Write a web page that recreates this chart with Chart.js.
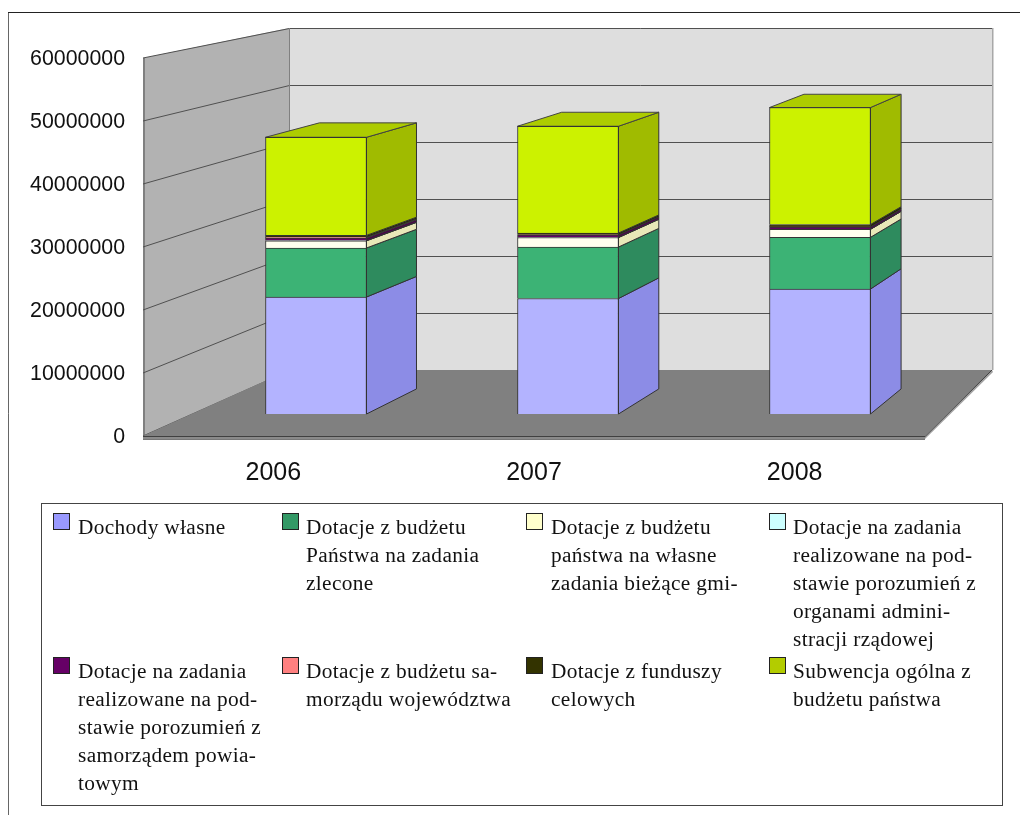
<!DOCTYPE html>
<html lang="pl">
<head>
<meta charset="utf-8">
<style>
html,body{margin:0;padding:0;background:#fff;overflow:hidden}
canvas{display:block}
</style>
<script src="https://cdn.jsdelivr.net/npm/chart.js@4"></script>
</head>
<body>
<canvas id="c" width="1020" height="815"></canvas>
<script>
const categories = ['2006', '2007', '2008'];
const yTicks = [0, 10000000, 20000000, 30000000, 40000000, 50000000, 60000000];

const dochodyWlasne   = [19500000, 19250000, 20830000];
const dotacjeZlecone  = [8170000, 8580000, 8620000];
const dotacjeWlasne   = [1200000, 1580000, 1330000];
const dotacjeAdmin    = [50000, 30000, 30000];
const dotacjePowiat   = [400000, 400000, 350000];
const dotacjeWoj      = [150000, 20000, 20000];
const dotacjeFundusze = [300000, 300000, 400000];
const subwencja       = [16350000, 17800000, 19500000];

const seriesValues = [dochodyWlasne, dotacjeZlecone, dotacjeWlasne, dotacjeAdmin,
                      dotacjePowiat, dotacjeWoj, dotacjeFundusze, subwencja];
const legendLines = [
  ['Dochody własne'],
  ['Dotacje z budżetu', 'Państwa na zadania', 'zlecone'],
  ['Dotacje z budżetu', 'państwa na własne', 'zadania bieżące gmi-'],
  ['Dotacje na zadania', 'realizowane na pod-', 'stawie porozumień z', 'organami admini-', 'stracji rządowej'],
  ['Dotacje na zadania', 'realizowane na pod-', 'stawie porozumień z', 'samorządem powia-', 'towym'],
  ['Dotacje z budżetu sa-', 'morządu województwa'],
  ['Dotacje z funduszy', 'celowych'],
  ['Subwencja ogólna z', 'budżetu państwa']
];
const frontColors  = ['#b3b3ff','#3cb375','#ffffee','#ddffff','#660066','#ff9999','#333300','#ccf200'];
const sideColors   = ['#8c8ce6','#2e8b5e','#e8e8b8','#b8e6e6','#4d004d','#e67373','#262600','#a0bb00'];
const swatchColors = ['#9999ff','#339966','#ffffcc','#ccffff','#660066','#ff8080','#333300','#b3cc00'];
const topColor = '#adcc00';

/* layout constants */
const AREA = {left:143, right:925, top:58, bottom:436};
const WALL = {dxLeft:146, dxRight:67, dyBottom:-66, dyTop:-30, slab:3};
const BAR  = {vx:1665, vy:-237, t:0.0385, thickness:101, step:252, first:316, base:414, pxPer10M:60};
const LEG  = {left:41, top:503, right:1002, bottom:805,
              swatchX:[53,282,526,769], textX:[78,306,551,793], rowY:[513,657],
              swatch:17, lineH:28, baseOff:21, font:'21.33px "Liberation Serif"', spacing:'0.35px'};

function depth(x, y){ return [x + BAR.t*(BAR.vx-x), y + BAR.t*(BAR.vy-y)]; }
function poly(ctx, pts, fill, stroke){
  ctx.beginPath();
  pts.forEach((p,i)=> i ? ctx.lineTo(p[0],p[1]) : ctx.moveTo(p[0],p[1]));
  ctx.closePath();
  if(fill){ ctx.fillStyle = fill; ctx.fill(); }
  if(stroke){ ctx.strokeStyle = stroke; ctx.lineWidth = 1; ctx.stroke(); }
}

const scene3d = {
  id:'scene3d',
  beforeDraw(chart){
    const ctx = chart.ctx;
    ctx.save();
    ctx.fillStyle='#fff'; ctx.fillRect(0,0,chart.width,chart.height);
    ctx.strokeStyle='#666'; ctx.lineWidth=1;
    ctx.beginPath(); ctx.moveTo(8.5,chart.height); ctx.lineTo(8.5,12.5); ctx.stroke();
    ctx.strokeStyle='#222';
    ctx.beginPath(); ctx.moveTo(8,12.5); ctx.lineTo(chart.width,12.5); ctx.stroke();
    ctx.restore();
  },
  beforeDatasetsDraw(chart){
    const ctx = chart.ctx, y = chart.scales.y, a = chart.chartArea;
    const L=a.left, R=a.right, T=a.top, B=a.bottom;
    const bl=L+WALL.dxLeft, br=R+WALL.dxRight, by=B+WALL.dyBottom, ty=T+WALL.dyTop;
    ctx.save();
    /* back wall */
    poly(ctx,[[bl,ty],[br,ty],[br,by],[bl,by]],'#dedede');
    /* right slab of back wall */
    ctx.fillStyle='#a8a8a8'; ctx.fillRect(br,ty,1.5,by-ty);
    /* left wall */
    poly(ctx,[[L,T],[bl,ty],[bl,by],[L,B]],'#b2b2b2');
    ctx.fillStyle='#808080'; ctx.fillRect(L,T,2,B-T);
    /* grid */
    ctx.strokeStyle='#505050'; ctx.lineWidth=1;
    yTicks.forEach(v=>{
      const f=v/yTicks[yTicks.length-1], py=y.getPixelForValue(v);
      const qy=Math.round(py+WALL.dyBottom+(WALL.dyTop-WALL.dyBottom)*f)+0.5;
      ctx.beginPath(); ctx.moveTo(L,py); ctx.lineTo(bl+0.5,qy); ctx.lineTo(br,qy); ctx.stroke();
    });
    ctx.strokeStyle='#808080';
    ctx.beginPath(); ctx.moveTo(bl+0.5,ty); ctx.lineTo(bl+0.5,by); ctx.stroke();
    /* floor */
    poly(ctx,[[L,B],[bl,by],[br,by],[R,B]],'#808080');
    poly(ctx,[[L,B],[R,B],[R,B+WALL.slab],[L,B+WALL.slab]],'#8a8a8a');
    poly(ctx,[[R,B],[br,by],[br+1,by+2],[R,B+WALL.slab]],'#a0a0a0');
    ctx.strokeStyle='#404040';
    ctx.beginPath(); ctx.moveTo(L,B+0.5); ctx.lineTo(R,B+0.5); ctx.lineTo(br,by); ctx.stroke();
    ctx.strokeStyle='#777';
    ctx.beginPath(); ctx.moveTo(L,B+WALL.slab+0.5); ctx.lineTo(R,B+WALL.slab+0.5); ctx.stroke();
    /* side and top faces from the bars themselves */
    const metas = chart.getSortedVisibleDatasetMetas();
    metas.forEach((meta,di)=>{
      meta.data.forEach(bar=>{
        const p=bar.getProps(['x','y','base','width'],true);
        const rx=p.x+p.width/2, lx=p.x-p.width/2;
        poly(ctx,[[rx,p.base],[rx,p.y],depth(rx,p.y),depth(rx,p.base)],sideColors[di],'#333');
        if(di===metas.length-1){
          poly(ctx,[[lx,p.y],[rx,p.y],depth(rx,p.y),depth(lx,p.y)],topColor,'#444');
        }
      });
    });
    ctx.restore();
  },
  afterDraw(chart){
    const ctx=chart.ctx;
    ctx.save();
    ctx.strokeStyle='#444'; ctx.lineWidth=1;
    ctx.strokeRect(LEG.left+.5,LEG.top+.5,LEG.right-LEG.left,LEG.bottom-LEG.top);
    ctx.font=LEG.font; ctx.letterSpacing=LEG.spacing; ctx.fillStyle='#111'; ctx.textBaseline='alphabetic';
    legendLines.forEach((lines,i)=>{
      const c=i%4, r=Math.floor(i/4), sy=LEG.rowY[r];
      ctx.fillStyle=swatchColors[i];
      ctx.fillRect(LEG.swatchX[c],sy,LEG.swatch,LEG.swatch);
      ctx.strokeStyle='#222';
      ctx.strokeRect(LEG.swatchX[c]+.5,sy+.5,LEG.swatch-1,LEG.swatch-1);
      ctx.fillStyle='#111';
      lines.forEach((t,k)=>ctx.fillText(t,LEG.textX[c],sy+LEG.baseOff+k*LEG.lineH));
    });
    ctx.restore();
  }
};

const areaW = AREA.right-AREA.left, areaH = AREA.bottom-AREA.top;
const xbMin = (AREA.left-BAR.first)/BAR.step;
const ybPerPx = 10000000/BAR.pxPer10M;

new Chart(document.getElementById('c'),{
  type:'bar',
  data:{
    labels:categories,
    datasets:seriesValues.map((vals,i)=>({
      label:legendLines[i].join(' ').replace('- ',''),
      data:vals.map((v,k)=>({x:k,y:v})),
      xAxisID:'xb', yAxisID:'yb',
      backgroundColor:frontColors[i],
      borderColor:'#333',
      borderWidth:1,
      barThickness:BAR.thickness
    }))
  },
  options:{
    responsive:false, animation:false, devicePixelRatio:1,
    layout:{padding:{left:0,top:AREA.top,right:1020-AREA.right,bottom:0}},
    plugins:{legend:{display:false},tooltip:{enabled:false},title:{display:false}},
    scales:{
      x:{type:'category',labels:categories,position:'bottom',offset:true,
         grid:{display:false},border:{display:false},
         ticks:{color:'#111',font:{family:'"Liberation Sans"',size:25},padding:14,maxRotation:0},
         afterFit(s){s.height=815-AREA.bottom;}},
      y:{type:'linear',position:'left',min:yTicks[0],max:yTicks[yTicks.length-1],
         grid:{display:false},border:{display:false},
         ticks:{stepSize:yTicks[1],color:'#111',font:{family:'"Liberation Sans"',size:21.33},padding:10,
                labelOffset:1.5,callback:v=>String(v)},
         afterFit(s){s.width=AREA.left;}},
      xb:{type:'linear',axis:'x',position:'bottom',display:false,stacked:true,offset:false,
          min:xbMin,max:xbMin+areaW/BAR.step},
      yb:{type:'linear',axis:'y',position:'left',display:false,stacked:true,
          min:-(AREA.bottom-BAR.base)*ybPerPx,max:(BAR.base-AREA.top)*ybPerPx}
    }
  },
  plugins:[scene3d]
});
</script>
</body>
</html>
